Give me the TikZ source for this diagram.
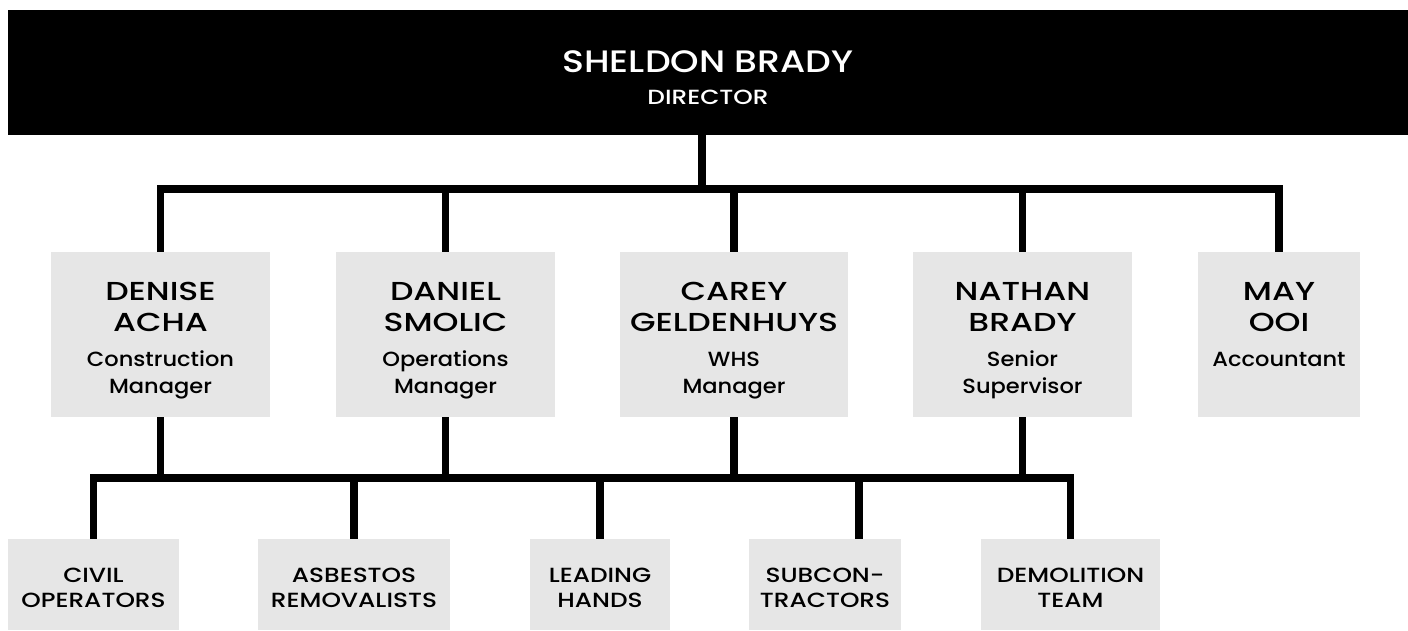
\documentclass[tikz,border=0pt]{standalone}
\usepackage{fontspec}
\setmainfont{Poppins}[UprightFont={* Medium}]
\newfontfamily\nmfam{Poppins}[UprightFont={* Medium}, FakeStretch=1.27]
\newfontfamily\rlfam{Poppins}[UprightFont={* Medium}, FakeStretch=1.1]
\newfontfamily\capfam{Poppins}[UprightFont={* Medium}, FakeStretch=1.21]
\newfontfamily\dnfam{Poppins}[UprightFont={* Medium}, FakeStretch=1.17]
\definecolor{boxgray}{HTML}{E6E6E6}
\newcommand{\nmf}{\nmfam\fontsize{26}{31}\selectfont}
\tikzset{
  conn/.style={line width=7.5pt, draw=black},
  hbar/.style={line width=7.5pt, draw=black, line cap=rect},
  mgr/.style={fill=boxgray, inner sep=0pt, minimum height=165pt},
  mtext/.style={inner sep=0pt, align=center, font=\rlfam\fontsize{20.5}{27}\selectfont},
  team/.style={fill=boxgray, inner sep=0pt, minimum height=91pt},
  ttext/.style={inner sep=0pt, align=center, font=\capfam\fontsize{20.5}{25}\selectfont},
  dirbox/.style={fill=black, inner sep=0pt, minimum width=1400pt, minimum height=125pt},
  dtext/.style={inner sep=0pt, text=white, align=center, font=\capfam\fontsize{20.5}{32}\selectfont}
}
\begin{document}
\begin{tikzpicture}[x=1pt,y=-1pt]
\useasboundingbox (0,0) rectangle (1408,630);
\node[dirbox] (dir) at (708,72.5) {};
\node[dtext] (dirt) at ([yshift=-5pt]dir.center) {{\dnfam\fontsize{31}{36}\selectfont SHELDON BRADY}\\DIRECTOR};

\node[mgr, minimum width=219pt] (m1) at (160.5,334.5) {};
\node[mgr, minimum width=219pt] (m2) at (445.5,334.5) {};
\node[mgr, minimum width=228pt] (m3) at (734,334.5) {};
\node[mgr, minimum width=219pt] (m4) at (1022.5,334.5) {};
\node[mgr, minimum width=162pt] (m5) at (1279,334.5) {};
\node[mtext] (m1t) at ([yshift=-6pt]m1.center) {{\nmf DENISE}\\[4pt]{\nmf ACHA}\\[8pt]Construction\\Manager};
\node[mtext] (m2t) at ([yshift=-6pt]m2.center) {{\nmf DANIEL}\\[4pt]{\nmf SMOLIC}\\[8pt]Operations\\Manager};
\node[mtext] (m3t) at ([yshift=-6pt]m3.center) {{\nmf CAREY}\\[4pt]{\nmf GELDENHUYS}\\[8pt]WHS\\Manager};
\node[mtext] (m4t) at ([yshift=-6pt]m4.center) {{\nmf NATHAN}\\[4pt]{\nmf BRADY}\\[8pt]Senior\\Supervisor};
\node[mtext] (m5t) at ([yshift=-6pt]m5.center) {{\nmf MAY}\\[4pt]{\nmf OOI}\\[8pt]Accountant\\\phantom{Ag}};

\node[team, minimum width=171pt] (t1) at (93.5,584.5) {};
\node[team, minimum width=192pt] (t2) at (354,584.5) {};
\node[team, minimum width=140pt] (t3) at (600,584.5) {};
\node[team, minimum width=152pt] (t4) at (825,584.5) {};
\node[team, minimum width=179pt] (t5) at (1070.5,584.5) {};
\node[ttext] (t1t) at ([yshift=-3pt]t1.center) {CIVIL\\OPERATORS};
\node[ttext] (t2t) at ([yshift=-3pt]t2.center) {ASBESTOS\\REMOVALISTS};
\node[ttext] (t3t) at ([yshift=-3pt]t3.center) {LEADING\\HANDS};
\node[ttext] (t4t) at ([yshift=-3pt]t4.center) {SUBCON-\\TRACTORS};
\node[ttext] (t5t) at ([yshift=-3pt]t5.center) {DEMOLITION\\TEAM};

% director to managers
\coordinate (b0) at (702,189);
\coordinate (b1) at (0,478);
\draw[conn] (b0 |- dir.south) -- (b0);
\draw[hbar] (m1.north |- b0) -- (m5.north |- b0);
\foreach \m in {m1,m2,m3,m4,m5} \draw[conn] (\m.north |- b0) -- (\m.north);

% managers to teams
\coordinate (t4top) at ([xshift=34pt]t4.north);
\draw[hbar] (t1.north |- b1) -- (t5.north |- b1);
\foreach \m in {m1,m2,m3,m4} \draw[conn] (\m.south) -- (\m.south |- b1);
\foreach \t in {t1,t2,t3,t5} \draw[conn] (\t.north |- b1) -- (\t.north);
\draw[conn] (t4top |- b1) -- (t4top);
\end{tikzpicture}
\end{document}
